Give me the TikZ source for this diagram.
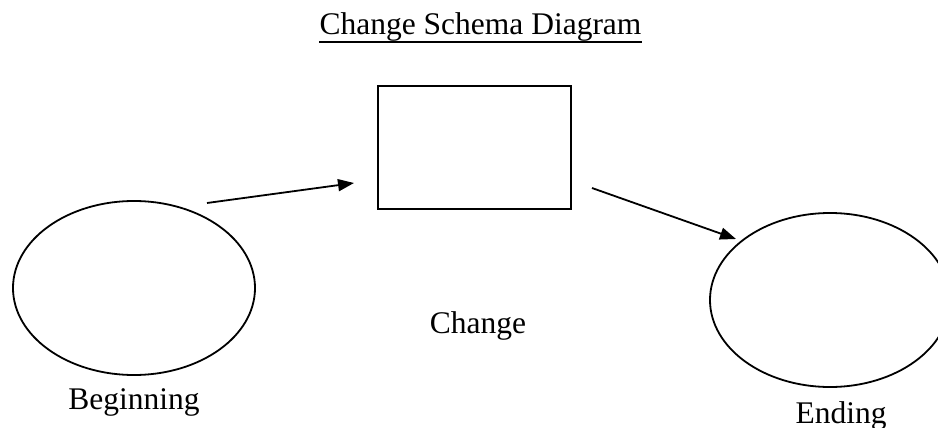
\documentclass[tikz,border=0pt]{standalone}
\usepackage{fontspec}
\setmainfont{Liberation Serif}
\usetikzlibrary{arrows.meta,shapes.geometric}
\begin{document}
\begin{tikzpicture}[x=1pt,y=-1pt,
  shape line/.style={draw=black,line width=1.8pt},
  label text/.style={inner sep=0pt,anchor=base,font=\fontsize{31.5}{36}\selectfont},
  flow/.style={line width=1.8pt,-{Triangle[length=16pt,width=12pt]}}]
  \useasboundingbox (0,0) rectangle (938,428);
  \clip (0,0) rectangle (938,428);

  % heading with its underline
  \node[label text] (title) at (480.5,35) {Change Schema Diagram};
  \draw[line width=1.6pt] ([yshift=-7pt]title.base west) -- ([yshift=-7pt]title.base east);

  % the three stages
  \node[shape line,ellipse,minimum width=242pt,minimum height=174pt,inner sep=0pt] (beg) at (134,288) {};
  \node[shape line,rectangle,minimum width=193pt,minimum height=123pt,inner sep=0pt] (chg) at (474.5,147.5) {};
  \node[shape line,ellipse,minimum width=240pt,minimum height=174pt,inner sep=0pt] (end) at (830,300) {};

  % stage names
  \node[label text] (begl) at (134,409) {Beginning};
  \node[label text] (chgl) at (478,333) {Change};
  \node[label text] (endl) at (841,423) {Ending};

  % connectors between the stages
  \coordinate (a1s) at (207,203);
  \coordinate (a1e) at (354,183);
  \coordinate (a2s) at (592,188);
  \coordinate (a2e) at (736,239);
  \draw[flow] (a1s) -- (a1e);
  \draw[flow] (a2s) -- (a2e);
\end{tikzpicture}
\end{document}
